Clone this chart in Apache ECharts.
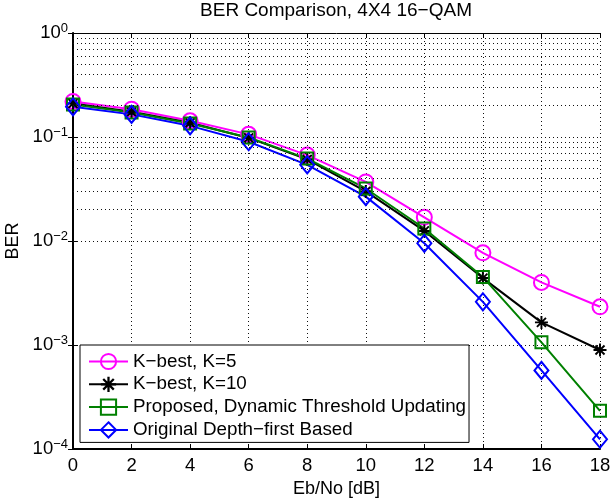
<!DOCTYPE html>
<html>
<head>
<meta charset="utf-8">
<script src="https://cdn.jsdelivr.net/npm/echarts@6/dist/echarts.min.js"></script>
<style>
  html, body { margin: 0; padding: 0; background: #fff; }
  #ber-chart { width: 611px; height: 499px; }
</style>
</head>
<body>
<div id="ber-chart"></div>
<script>
// Eb/No points (dB)
const ebno = [0, 2, 4, 6, 8, 10, 12, 14, 16, 18];

// BER values
const kBest5 = [0.22, 0.185, 0.143, 0.106, 0.067, 0.037, 0.0169, 0.0077, 0.0040, 0.00233];
const kBest10 = [0.21, 0.175, 0.137, 0.098, 0.061, 0.030, 0.0125, 0.0044, 0.00165, 0.000895];
const proposed = [0.205, 0.172, 0.135, 0.099, 0.062, 0.032, 0.0132, 0.0045, 0.00106, 0.000233];
const depthFirst = [0.195, 0.165, 0.128, 0.090, 0.054, 0.0267, 0.0095, 0.0026, 0.00057, 0.000124];

const seriesNames = [
  "K\u2212best, K=5",
  "K\u2212best, K=10",
  "Proposed, Dynamic Threshold Updating",
  "Original Depth\u2212first Based"
];

// minor grid of the log axis: mantissas x decades
const decades = [1e-4, 1e-3, 1e-2, 1e-1];
const mantissas = [2, 3, 4, 5, 6, 7, 8, 9];

const FONT = "'Liberation Sans', Arial, Helvetica, sans-serif";
const DOTTED = { color: "#111", width: 1, type: [1, 3] };
const STAR = "path://M-1.5,-10L1.5,-10L1.5,10L-1.5,10Z M-10,-1.5L10,-1.5L10,1.5L-10,1.5Z " +
  "M-5.9,-8L8,5.9L5.9,8L-8,-5.9Z M5.9,-8L8,-5.9L-5.9,8L-8,5.9Z";

const minorY = [];
decades.forEach(d => mantissas.forEach(m => minorY.push(m * d)));

function pow10Label(v) {
  const e = Math.round(Math.log10(v));
  return "{a|10}{b|" + String(e).replace("-", "\u2212") + "}";
}

function lineSeries(name, data, color, symbol, size, filled) {
  return {
    name: name,
    type: "line",
    data: ebno.map((x, i) => [x, data[i]]),
    symbol: symbol,
    symbolSize: size,
    showAllSymbol: true,
    lineStyle: { color: color, width: 2 },
    itemStyle: {
      color: filled ? color : "rgba(0,0,0,0)",
      borderColor: color,
      borderWidth: filled ? 0 : 2
    },
    emphasis: { disabled: true },
    z: 3
  };
}

const chart = echarts.init(document.getElementById("ber-chart"), null, { renderer: "canvas" });

chart.setOption({
  animation: false,
  backgroundColor: "#fff",
  textStyle: { fontFamily: FONT },
  title: {
    text: "BER Comparison, 4X4 16\u2212QAM",
    left: 336,
    textAlign: "center",
    top: 1,
    padding: 0,
    textStyle: { fontFamily: FONT, fontSize: 19, fontWeight: "normal", color: "#000" }
  },
  grid: { left: 73, right: 11, top: 33, bottom: 50, containLabel: false, outerBoundsMode: "none" },
  legend: {
    orient: "vertical",
    left: 80,
    top: 345,
    padding: [7, 3, 3, 8],
    itemWidth: 39,
    itemHeight: 19,
    itemGap: 3.8,
    backgroundColor: "#fff",
    borderColor: "#000",
    borderWidth: 1,
    textStyle: { fontFamily: FONT, fontSize: 18.8, color: "#000" },
    data: seriesNames
  },
  xAxis: [
    {
      type: "value",
      min: 0,
      max: 18,
      interval: 2,
      name: "Eb/No [dB]",
      nameLocation: "middle",
      nameGap: 29,
      nameTextStyle: { fontFamily: FONT, fontSize: 18, color: "#000" },
      axisLine: { lineStyle: { color: "#000", width: 2 } },
      axisTick: { inside: true, length: 5, lineStyle: { color: "#000" } },
      axisLabel: { fontFamily: FONT, fontSize: 18.5, color: "#000", margin: 7 },
      splitLine: { show: true, lineStyle: DOTTED }
    },
    {
      type: "value",
      position: "top",
      min: 0,
      max: 18,
      interval: 2,
      axisLine: { lineStyle: { color: "#000", width: 1 } },
      axisTick: { inside: true, length: 5, lineStyle: { color: "#000" } },
      axisLabel: { show: false },
      splitLine: { show: false }
    }
  ],
  yAxis: [
    {
      type: "log",
      logBase: 10,
      min: 1e-4,
      max: 1,
      name: "BER",
      nameLocation: "middle",
      nameGap: 42,
      nameTextStyle: { fontFamily: FONT, fontSize: 18, color: "#000" },
      axisLine: { lineStyle: { color: "#000", width: 2 } },
      axisTick: { inside: true, length: 5, lineStyle: { color: "#000" } },
      axisLabel: {
        margin: 5,
        formatter: pow10Label,
        rich: {
          a: { fontFamily: FONT, fontSize: 18.5, color: "#000" },
          b: { fontFamily: FONT, fontSize: 13, color: "#000", padding: [0, 0, 10, 0] }
        }
      },
      splitLine: { show: true, lineStyle: DOTTED }
    },
    {
      type: "log",
      logBase: 10,
      min: 1e-4,
      max: 1,
      position: "right",
      axisLine: { lineStyle: { color: "#000", width: 1 } },
      axisTick: { inside: true, length: 5, lineStyle: { color: "#000" } },
      axisLabel: { show: false },
      splitLine: { show: false }
    }
  ],
  series: [
    {
      name: "minor-grid",
      type: "line",
      data: [],
      silent: true,
      z: 1,
      markLine: {
        silent: true,
        symbol: "none",
        label: { show: false },
        lineStyle: DOTTED,
        emphasis: { disabled: true },
        data: minorY.map(v => ({ yAxis: v }))
      }
    },
    lineSeries(seriesNames[0], kBest5, "#ff00ff", "circle", 15, false),
    lineSeries(seriesNames[1], kBest10, "#000000", STAR, 13, true),
    lineSeries(seriesNames[2], proposed, "#008000", "rect", 12, false),
    lineSeries(seriesNames[3], depthFirst, "#0000ff", "diamond", [14, 17], false)
  ]
});
</script>
</body>
</html>
